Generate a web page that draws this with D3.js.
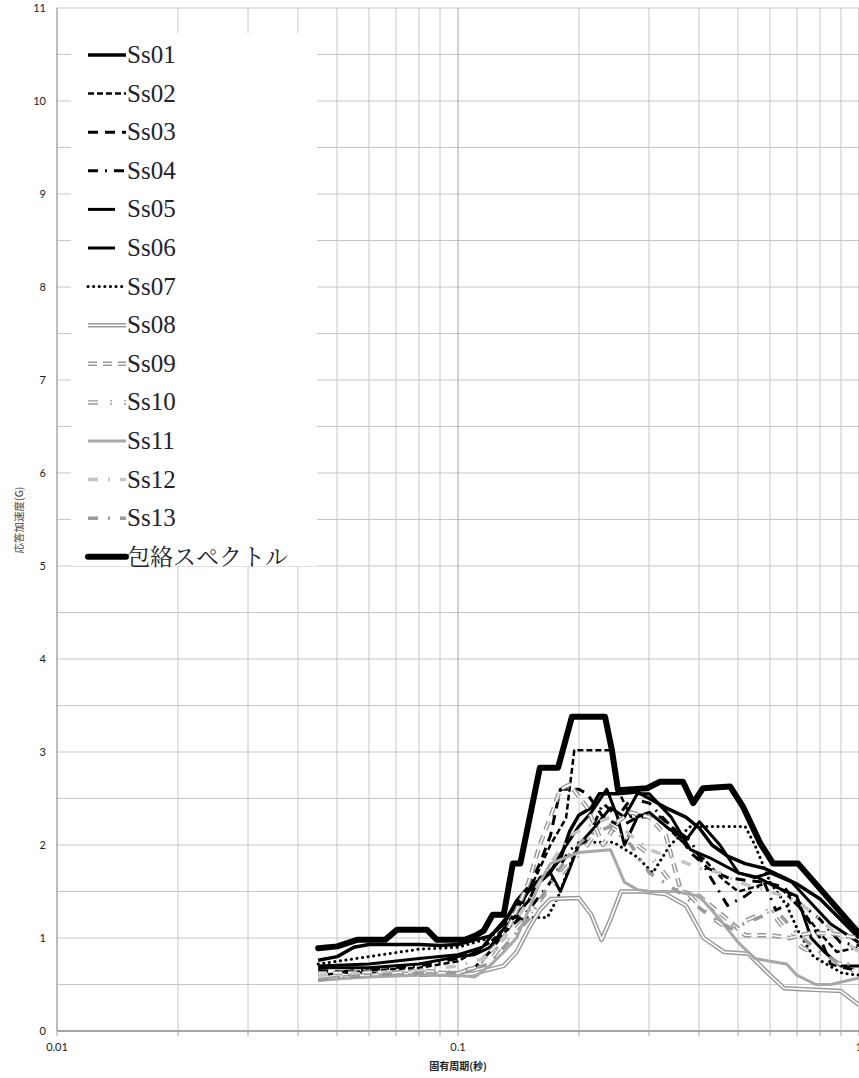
<!DOCTYPE html>
<html><head><meta charset="utf-8">
<script src="https://cdn.jsdelivr.net/npm/d3@7"></script>
<style>html,body{margin:0;padding:0;background:#fff;}svg{display:block;}</style>
</head><body><svg id="c" width="859" height="1078"></svg>
<script>
// ---- data (period in s, acceleration in G) ----
const seriesNames = ["Ss01","Ss02","Ss03","Ss04","Ss05","Ss06","Ss07","Ss08","Ss09","Ss10","Ss11","Ss12","Ss13","包絡スペクトル"];
const yTicks = [0,1,2,3,4,5,6,7,8,9,10,11];
const xTicks = [0.01,0.1,1];
const xTickLabels = ["0.01","0.1","1"];

const ss01 = [[0.0448,0.76],[0.05,0.8],[0.055,0.9],[0.06,0.93],[0.08,0.93],[0.09,0.92],[0.1,0.93],[0.11,0.98],[0.12,1.02],[0.13,1.15],[0.14,1.4],[0.15,1.55],[0.16,1.62],[0.17,1.72],[0.18,1.85],[0.19,2.15],[0.2,2.32],[0.215,2.4],[0.225,2.55],[0.25,2.55],[0.28,2.57],[0.3,2.5],[0.33,2.4],[0.37,2.3],[0.4,2.18],[0.43,2.0],[0.47,1.88],[0.52,1.8],[0.58,1.75],[0.65,1.65],[0.7,1.58],[0.8,1.42],[0.9,1.2],[1.0,1.0]];
const ss02 = [[0.0448,0.6],[0.06,0.65],[0.08,0.68],[0.1,0.75],[0.11,0.85],[0.12,0.95],[0.13,1.1],[0.14,1.3],[0.15,1.5],[0.16,1.75],[0.17,2.0],[0.186,2.29],[0.195,3.02],[0.24,3.02],[0.25,2.6],[0.27,2.3],[0.3,2.35],[0.33,2.2],[0.37,2.0],[0.41,1.85],[0.46,1.62],[0.5,1.5],[0.55,1.55],[0.6,1.6],[0.65,1.5],[0.72,1.3],[0.8,1.05],[0.88,0.85],[1.0,0.9]];
const ss03 = [[0.0448,0.65],[0.06,0.62],[0.08,0.6],[0.1,0.62],[0.11,0.68],[0.12,0.85],[0.13,1.05],[0.14,1.2],[0.15,1.55],[0.16,1.8],[0.17,2.1],[0.18,2.6],[0.2,2.6],[0.21,2.55],[0.23,2.3],[0.255,2.2],[0.28,2.3],[0.32,2.3],[0.35,2.15],[0.38,1.92],[0.42,1.75],[0.47,1.65],[0.52,1.62],[0.58,1.6],[0.65,1.55],[0.72,1.3],[0.8,1.0],[0.85,0.72],[0.92,0.68],[1.0,0.65]];
const ss04 = [[0.0448,0.62],[0.06,0.66],[0.08,0.7],[0.1,0.78],[0.12,0.9],[0.13,1.05],[0.15,1.3],[0.17,1.6],[0.19,1.95],[0.21,2.05],[0.23,2.45],[0.25,2.3],[0.27,2.5],[0.3,2.45],[0.34,2.2],[0.38,2.05],[0.42,1.7],[0.47,1.35],[0.52,1.45],[0.58,1.6],[0.62,1.3],[0.7,1.4],[0.8,1.2],[0.9,0.95],[1.0,0.92]];
const ss05 = [[0.0448,0.68],[0.06,0.68],[0.08,0.72],[0.1,0.8],[0.11,0.82],[0.12,0.9],[0.13,1.1],[0.14,1.25],[0.15,1.4],[0.16,1.65],[0.17,1.7],[0.18,1.9],[0.2,2.2],[0.215,2.35],[0.235,2.6],[0.25,2.3],[0.26,2.0],[0.28,2.3],[0.3,2.35],[0.33,2.2],[0.37,2.05],[0.4,2.25],[0.45,2.0],[0.5,1.7],[0.55,1.65],[0.6,1.7],[0.68,1.6],[0.75,1.4],[0.85,1.15],[1.0,0.95]];
const ss06 = [[0.0448,0.7],[0.06,0.72],[0.08,0.78],[0.1,0.82],[0.115,0.9],[0.125,1.1],[0.14,1.35],[0.15,1.5],[0.16,1.6],[0.17,1.7],[0.18,1.5],[0.19,1.75],[0.2,2.0],[0.22,2.2],[0.24,2.4],[0.26,2.3],[0.28,2.55],[0.3,2.55],[0.34,2.3],[0.38,1.95],[0.43,1.85],[0.5,1.7],[0.56,1.65],[0.62,1.55],[0.7,1.45],[0.76,1.0],[0.82,0.85],[0.9,0.7],[1.0,0.7]];
const ss07 = [[0.0448,0.72],[0.06,0.8],[0.08,0.88],[0.1,0.9],[0.12,1.0],[0.13,1.15],[0.15,1.22],[0.167,1.22],[0.178,1.45],[0.187,1.7],[0.2,2.03],[0.244,2.03],[0.28,1.87],[0.306,1.7],[0.338,2.0],[0.38,2.2],[0.52,2.2],[0.55,2.0],[0.6,1.6],[0.66,1.35],[0.71,1.05],[0.77,0.8],[0.91,0.62],[1.0,0.6]];
const ss08 = [[0.0448,0.55],[0.06,0.6],[0.08,0.62],[0.1,0.6],[0.11,0.62],[0.13,0.7],[0.14,0.85],[0.15,1.1],[0.16,1.3],[0.17,1.42],[0.2,1.43],[0.215,1.25],[0.228,0.98],[0.24,1.2],[0.255,1.5],[0.29,1.5],[0.33,1.47],[0.37,1.35],[0.41,1.0],[0.46,0.85],[0.53,0.83],[0.6,0.6],[0.65,0.46],[0.72,0.45],[0.8,0.44],[0.9,0.43],[1.0,0.28]];
const ss09 = [[0.0448,0.62],[0.06,0.63],[0.08,0.63],[0.1,0.62],[0.11,0.68],[0.12,0.85],[0.13,1.0],[0.14,1.3],[0.15,1.6],[0.16,2.0],[0.17,2.3],[0.18,2.6],[0.19,2.65],[0.21,2.4],[0.23,2.0],[0.25,2.25],[0.27,2.35],[0.3,2.3],[0.33,2.1],[0.36,1.5],[0.4,1.45],[0.44,1.3],[0.47,1.2],[0.52,1.03],[0.6,1.03],[0.67,1.0],[0.75,1.05],[0.85,1.05],[1.0,1.0]];
const ss10 = [[0.0448,0.58],[0.06,0.6],[0.08,0.65],[0.1,0.62],[0.12,0.75],[0.13,0.95],[0.15,1.25],[0.17,1.55],[0.19,1.8],[0.21,2.0],[0.23,2.25],[0.26,2.1],[0.3,1.9],[0.34,1.6],[0.38,1.45],[0.42,1.25],[0.47,1.1],[0.53,1.2],[0.6,1.3],[0.65,1.1],[0.72,0.9],[0.8,0.8],[0.9,0.72],[1.0,0.62]];
const ss11 = [[0.0448,0.55],[0.06,0.58],[0.08,0.6],[0.1,0.6],[0.11,0.58],[0.12,0.7],[0.13,0.85],[0.14,1.0],[0.15,1.3],[0.16,1.6],[0.17,1.8],[0.2,1.92],[0.24,1.95],[0.26,1.6],[0.28,1.52],[0.3,1.5],[0.35,1.5],[0.4,1.45],[0.45,1.2],[0.5,0.95],[0.55,0.78],[0.6,0.75],[0.66,0.72],[0.7,0.6],[0.78,0.5],[0.85,0.5],[1.0,0.57]];
const ss12 = [[0.0448,0.6],[0.06,0.62],[0.08,0.65],[0.1,0.7],[0.12,0.8],[0.13,1.0],[0.15,1.4],[0.17,1.8],[0.19,2.1],[0.21,2.2],[0.24,2.3],[0.27,2.1],[0.3,1.95],[0.35,1.85],[0.4,1.75],[0.45,1.7],[0.5,1.6],[0.6,1.5],[0.7,1.4],[0.8,1.2],[0.9,1.0],[1.0,0.85]];
const ss13 = [[0.0448,0.55],[0.06,0.6],[0.08,0.62],[0.1,0.63],[0.12,0.72],[0.13,0.9],[0.15,1.2],[0.17,1.6],[0.19,1.9],[0.21,2.1],[0.24,2.2],[0.27,2.0],[0.3,1.7],[0.34,1.55],[0.38,1.4],[0.42,1.25],[0.48,1.1],[0.55,1.2],[0.62,1.3],[0.7,1.05],[0.8,0.85],[0.9,0.72],[1.0,0.72]];
const envelope = [[0.0448,0.89],[0.05,0.91],[0.056,0.98],[0.0658,0.98],[0.0705,1.09],[0.0836,1.09],[0.0886,0.98],[0.104,0.98],[0.111,1.03],[0.116,1.08],[0.122,1.25],[0.13,1.25],[0.137,1.8],[0.143,1.8],[0.16,2.83],[0.1776,2.83],[0.1924,3.38],[0.2326,3.38],[0.242,3.02],[0.2506,2.59],[0.296,2.61],[0.319,2.68],[0.364,2.68],[0.386,2.45],[0.408,2.61],[0.477,2.63],[0.514,2.41],[0.567,2.02],[0.611,1.8],[0.705,1.8],[1.0,1.05]];

const allData = [ss01,ss02,ss03,ss04,ss05,ss06,ss07,ss08,ss09,ss10,ss11,ss12,ss13,envelope];

// ---- styles ----
const styles = [
  {c:"#000",w:3.5,d:null},
  {c:"#000",w:2.5,d:"6,3"},
  {c:"#000",w:3,d:"10,7"},
  {c:"#000",w:3,d:"10,7,2,7"},
  {c:"#000",w:3,d:null,short:true},
  {c:"#000",w:3,d:null,short:true},
  {c:"#000",w:3,d:"0.1,5.5",cap:"round"},
  {c:"#999",w:4.5,d:null,dbl:true},
  {c:"#999",w:4.5,d:"9,6",dbl:true},
  {c:"#999",w:4.5,d:"10,12,2,12",dbl:true},
  {c:"#a8a8a8",w:3,d:null},
  {c:"#c4c4c4",w:3.5,d:"10,10,2,10"},
  {c:"#9a9a9a",w:3.5,d:"10,10,2,10"},
  {c:"#000",w:6,d:null,cap:"round"}
];

const svg = d3.select("#c");
const L = 57, R = 859, T = 8, B = 1031;
const x = d3.scaleLog().domain([0.01,1]).range([L,R]);
const y = d3.scaleLinear().domain([0,11]).range([B,T]);

// grid
const minorX = [];
[0.01,0.1].forEach(dec=>{for(let k=2;k<=9;k++) minorX.push(dec*k);});
const majorX = [0.01,0.1,1];
const gridY = d3.range(0,11.01,0.5);

const g = svg.append("g");
g.selectAll("line.gy").data(gridY).join("line")
  .attr("x1",L).attr("x2",R+2).attr("y1",d=>y(d)).attr("y2",d=>y(d))
  .attr("stroke","#c6c6c6").attr("stroke-width",1);
g.selectAll("line.gx").data(minorX).join("line")
  .attr("x1",d=>Math.round(x(d))).attr("x2",d=>Math.round(x(d))).attr("y1",T).attr("y2",B)
  .attr("stroke","#c6c6c6").attr("stroke-width",1);
g.selectAll("line.gxm").data(majorX).join("line")
  .attr("x1",d=>Math.round(x(d))).attr("x2",d=>Math.round(x(d))).attr("y1",T).attr("y2",B)
  .attr("stroke","#a6a6a6").attr("stroke-width",1);

// bottom tick marks
g.selectAll("line.tk").data(minorX.concat(majorX)).join("line")
  .attr("x1",d=>Math.round(x(d))).attr("x2",d=>Math.round(x(d))).attr("y1",B).attr("y2",B+5)
  .attr("stroke","#a6a6a6").attr("stroke-width",1);

// axes lines
g.append("line").attr("x1",L).attr("x2",L).attr("y1",T).attr("y2",B).attr("stroke","#a6a6a6").attr("stroke-width",1);
g.append("line").attr("x1",L).attr("x2",R+2).attr("y1",B).attr("y2",B).attr("stroke","#a6a6a6").attr("stroke-width",2);

// tick labels
svg.append("g").selectAll("text").data(yTicks).join("text")
  .attr("x",46).attr("y",d=>y(d)+4).attr("text-anchor","end")
  .attr("font-family","Lato, 'Open Sans', sans-serif").attr("font-size",11).attr("fill","#1a1a1a")
  .text(d=>d);
svg.append("g").selectAll("text").data(xTicks).join("text")
  .attr("x",d=>x(d)).attr("y",1051).attr("text-anchor","middle")
  .attr("font-family","Lato, 'Open Sans', sans-serif").attr("font-size",11).attr("fill","#1a1a1a")
  .text((d,i)=>xTickLabels[i]);

// axis titles
svg.append("text").attr("x",458).attr("y",1070).attr("text-anchor","middle")
  .attr("font-family","'Noto Sans CJK JP', sans-serif").attr("font-weight","bold").attr("font-size",10).attr("fill","#222")
  .text("固有周期(秒)");
svg.append("text").attr("transform","translate(23,520) rotate(-90)").attr("text-anchor","middle")
  .attr("font-family","'Noto Sans CJK JP', sans-serif").attr("font-size",10.5).attr("fill","#444")
  .text("応答加速度(G)");

// series
svg.append("clipPath").attr("id","clip").append("rect").attr("x",L).attr("y",T-5).attr("width",R-L+1).attr("height",B-T+5);
const line = d3.line().x(d=>x(d[0])).y(d=>y(d[1]));
const sg = svg.append("g").attr("clip-path","url(#clip)");
allData.forEach((data,i)=>{
  const s = styles[i];
  const p = sg.append("path").datum(data).attr("d",line).attr("fill","none")
    .attr("stroke",s.c).attr("stroke-width",s.w).attr("stroke-linejoin","round")
    .attr("stroke-linecap",s.cap||"butt");
  if(s.d) p.attr("stroke-dasharray",s.d);
  if(s.dbl){
    const p2 = sg.append("path").datum(data).attr("d",line).attr("fill","none")
      .attr("stroke","#fff").attr("stroke-width",1.6).attr("stroke-linejoin","round");
    if(s.d) p2.attr("stroke-dasharray",s.d);
  }
});

// legend
const lg = svg.append("g");
lg.append("rect").attr("x",71).attr("y",33).attr("width",246).attr("height",533).attr("fill","#fff");
const ly0 = 55, ldy = 38.6;
seriesNames.forEach((n,i)=>{
  const s = styles[i];
  const yy = ly0 + i*ldy;
  const x2 = s.short ? 115 : 126;
  const ln = lg.append("line").attr("x1",88).attr("x2",x2).attr("y1",yy).attr("y2",yy)
    .attr("stroke",s.c).attr("stroke-width",s.w).attr("stroke-linecap",s.cap||"butt");
  if(s.d) ln.attr("stroke-dasharray",s.d);
  if(s.dbl){
    const l2 = lg.append("line").attr("x1",88).attr("x2",x2).attr("y1",yy).attr("y2",yy)
      .attr("stroke","#fff").attr("stroke-width",1.6);
    if(s.d) l2.attr("stroke-dasharray",s.d);
  }
  lg.append("text").attr("x",127).attr("y",yy+8)
    .attr("font-family", i===13 ? "'Noto Serif CJK JP','Noto Sans CJK JP', serif" : "'Liberation Serif','Times New Roman',Times,serif")
    .attr("font-size", i===13 ? 23 : 25).attr("fill","#22222e")
    .text(n);
});
</script></body></html>
